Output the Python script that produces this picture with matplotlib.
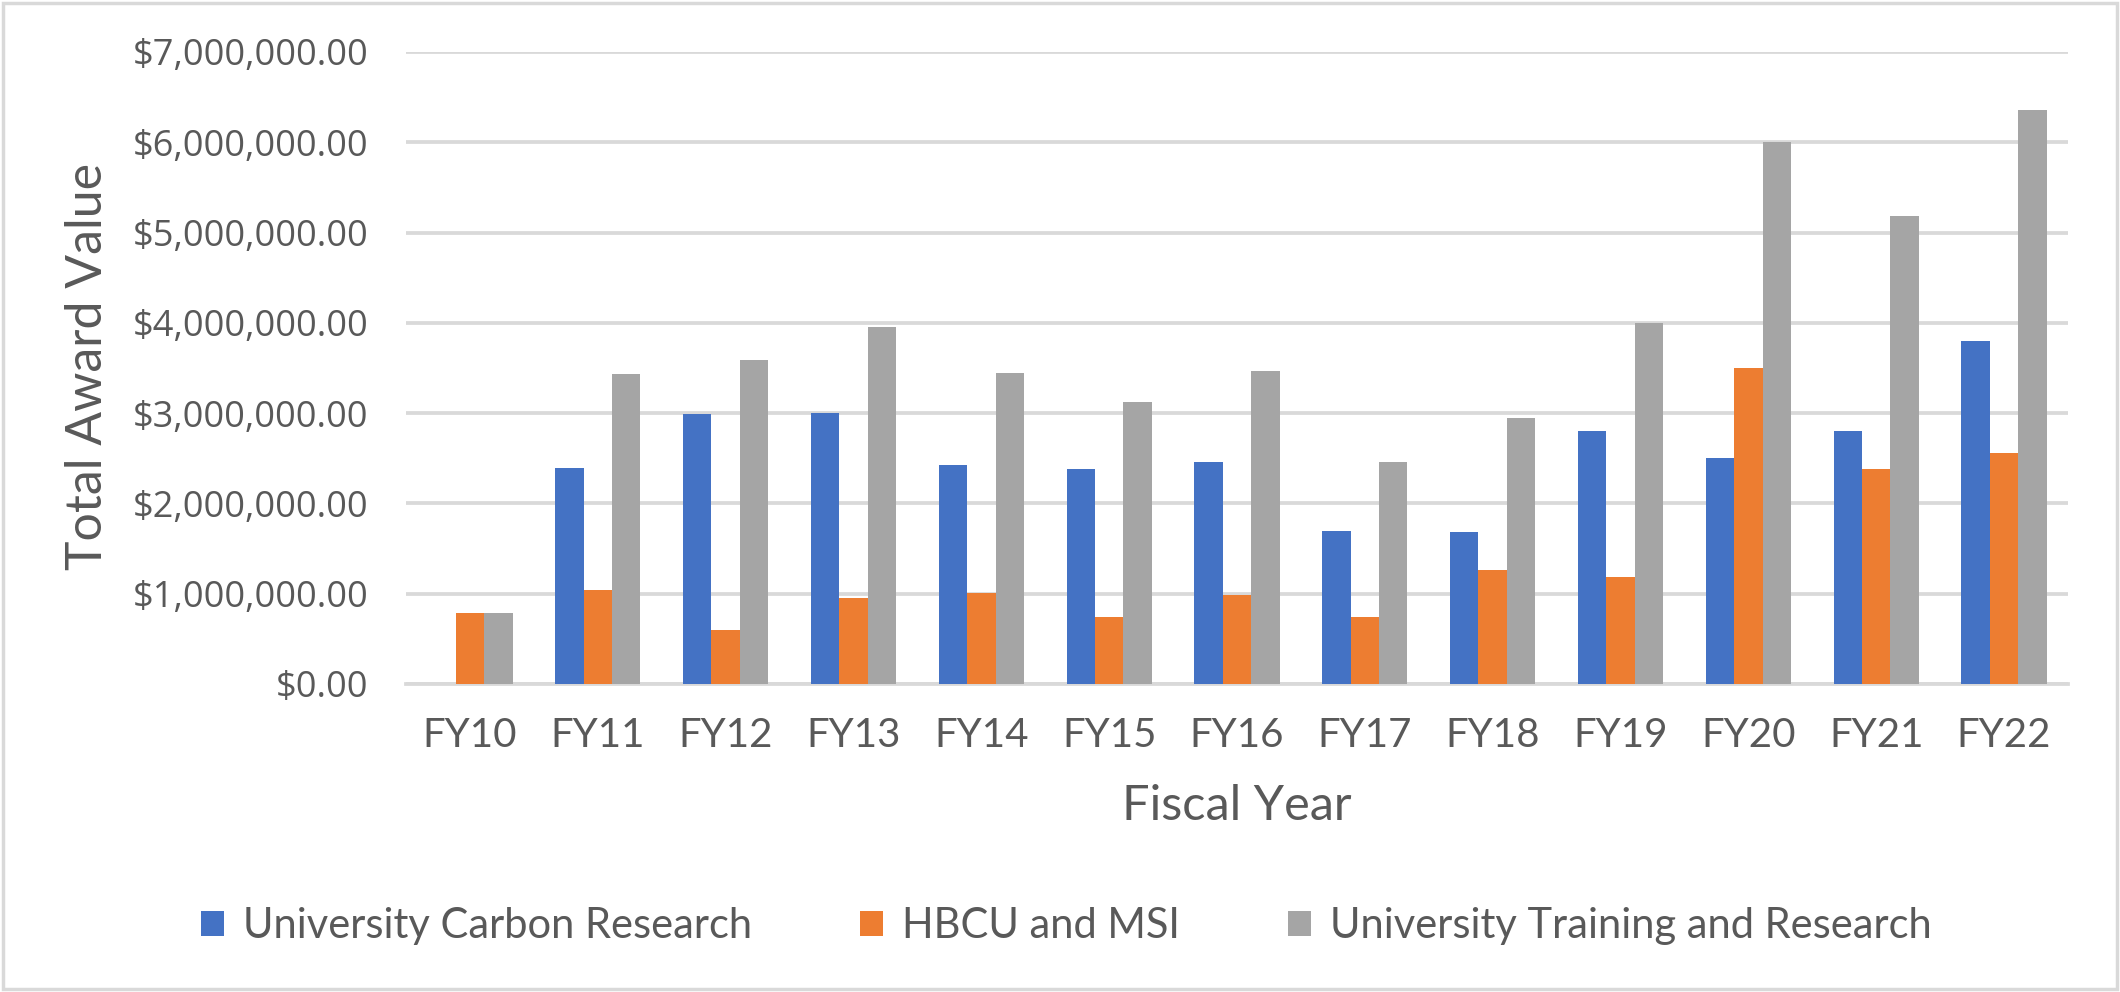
import numpy as np
import matplotlib
matplotlib.use("Agg")
import matplotlib.pyplot as plt
from matplotlib.ticker import FuncFormatter

# --- Data (in dollars) ---
years = ["FY10", "FY11", "FY12", "FY13", "FY14", "FY15", "FY16",
         "FY17", "FY18", "FY19", "FY20", "FY21", "FY22"]
carbon_research = [0, 2.39e6, 2.99e6, 3.00e6, 2.43e6, 2.38e6, 2.46e6,
                   1.70e6, 1.68e6, 2.80e6, 2.50e6, 2.80e6, 3.80e6]
hbcu_msi = [0.79e6, 1.04e6, 0.60e6, 0.95e6, 1.01e6, 0.74e6, 0.99e6,
            0.74e6, 1.26e6, 1.19e6, 3.50e6, 2.38e6, 2.56e6]
training_research = [0.79e6, 3.43e6, 3.59e6, 3.95e6, 3.44e6, 3.12e6, 3.47e6,
                     2.46e6, 2.95e6, 4.00e6, 6.00e6, 5.18e6, 6.36e6]
series_names = ["University Carbon Research", "HBCU and MSI",
                "University Training and Research"]
y_ticks = [0, 1e6, 2e6, 3e6, 4e6, 5e6, 6e6, 7e6]

# --- Style ---
colors = ["#4472C4", "#ED7D31", "#A5A5A5"]
text_color = "#595959"
grid_color = "#D9D9D9"
tick_font = "Open Sans"
title_font = "Lato"

fig = plt.figure(figsize=(21.2, 9.92), dpi=100)
fig.patch.set_facecolor("white")

# light grey chart-area border
border = plt.Rectangle((0.0015, 0.003), 0.997, 0.994, transform=fig.transFigure,
                       fill=False, edgecolor=grid_color, linewidth=2.5)
fig.patches.append(border)

ax = fig.add_axes([406 / 2120, 1 - 684 / 992, (2068 - 406) / 2120, (684 - 52) / 992])

x = np.arange(len(years))
bar_w = 0.667 / 3
for i, (vals, name) in enumerate(zip([carbon_research, hbcu_msi, training_research], series_names)):
    ax.bar(x + (i - 1) * bar_w, vals, width=bar_w, color=colors[i], label=name, zorder=3)

ax.set_xlim(-0.5, len(years) - 0.5)
ax.set_ylim(0, 7e6)
ax.set_yticks(y_ticks)
ax.yaxis.set_major_formatter(FuncFormatter(lambda v, p: "${:,.2f}".format(v)))
ax.set_xticks(x)
ax.set_xticklabels(years)

ax.grid(axis="y", color=grid_color, linewidth=2.7, zorder=0)
ax.set_axisbelow(True)
for side in ["top", "right", "left"]:
    ax.spines[side].set_visible(False)
ax.spines["bottom"].set_color(grid_color)
ax.spines["bottom"].set_linewidth(2.7)
ax.tick_params(axis="both", length=0, colors=text_color)
ax.tick_params(axis="y", pad=27)
ax.tick_params(axis="x", pad=24)
for lbl in ax.get_yticklabels():
    lbl.set_fontfamily(tick_font)
    lbl.set_fontsize(26)
for lbl in ax.get_xticklabels():
    lbl.set_fontfamily(title_font)
    lbl.set_fontsize(29)

# axis titles
fig.text(88 / 2120, 1 - 366 / 992, "Total Award Value", rotation=90, ha="center", va="center",
         fontsize=36, color=text_color, family=title_font)
fig.text(1237 / 2120, 1 - 806 / 992, "Fiscal Year", ha="center", va="center",
         fontsize=35, color=text_color, family=title_font)

# legend at the bottom
leg = fig.legend(loc="center", bbox_to_anchor=(0.503, 1 - 926 / 992), ncol=3, frameon=False,
                 prop={"family": title_font, "size": 30}, handlelength=0.55, handleheight=0.55,
                 handletextpad=0.45, columnspacing=2.6, labelcolor=text_color)

fig.savefig("out.png", dpi=100, facecolor="white")
